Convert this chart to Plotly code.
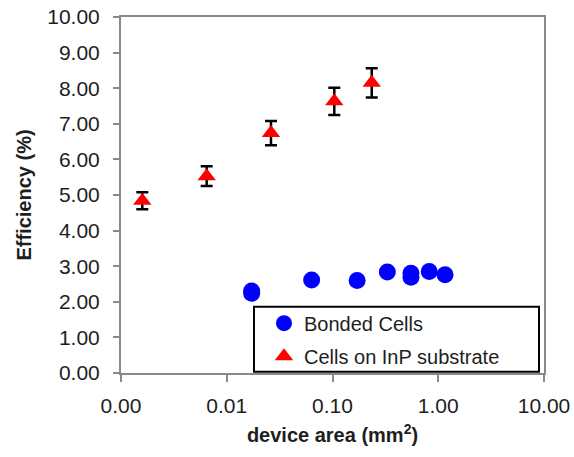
import plotly.graph_objects as go

# Bonded cells: device area (mm^2) and efficiency (%)
bonded_area = [0.0172, 0.0172, 0.0635, 0.171, 0.330, 0.552, 0.552, 0.822, 1.16]
bonded_eff = [2.30, 2.24, 2.61, 2.60, 2.84, 2.80, 2.69, 2.85, 2.76]

# Cells grown on InP substrate, with error bars
inp_area = [0.00159, 0.00646, 0.0262, 0.104, 0.235]
inp_eff = [4.84, 5.53, 6.74, 7.63, 8.15]
inp_err = [0.24, 0.28, 0.34, 0.38, 0.41]

x_tickvals = [0.001, 0.01, 0.1, 1, 10]
x_ticktext = ["0.00", "0.01", "0.10", "1.00", "10.00"]

FONT = "Liberation Sans"
AXIS_GRAY = "#898989"
TEXT = "#1e1e1e"

fig = go.Figure()

fig.add_trace(go.Scatter(
    x=bonded_area, y=bonded_eff, mode="markers", name="Bonded Cells",
    legendgroup="a",
    marker=dict(symbol="circle", size=17, color="#0000ff", line=dict(width=0)),
))

fig.add_trace(go.Scatter(
    x=inp_area, y=inp_eff, mode="markers", name="Cells on InP substrate",
    legendgroup="b",
    marker=dict(symbol="triangle-up", size=16, color="#ff0000", line=dict(width=0)),
    error_y=dict(type="data", array=inp_err, visible=True,
                 color="black", thickness=2.5, width=6),
))

# legend frame
fig.add_shape(type="rect", xref="paper", yref="paper",
              x0=(254 - 121) / 423, x1=(539 - 121) / 423,
              y0=(373.3 - 372) / 356, y1=(373.3 - 307) / 356,
              line=dict(color="black", width=2), fillcolor="white", layer="above")

fig.update_layout(
    width=574, height=457,
    margin=dict(l=121, r=30, t=17, b=84),
    paper_bgcolor="white", plot_bgcolor="white",
    font=dict(family=FONT, size=21, color=TEXT),
    showlegend=True,
    legend=dict(x=(264 - 121) / 423, xanchor="left",
                y=(373.3 - 304) / 356, yanchor="top",
                bgcolor="rgba(0,0,0,0)", borderwidth=0,
                font=dict(family=FONT, size=20, color=TEXT),
                traceorder="grouped", tracegroupgap=4,
                itemsizing="trace"),
    xaxis=dict(
        type="log", range=[-3, 1],
        tickvals=x_tickvals, ticktext=x_ticktext,
        ticks="outside", ticklen=7, tickwidth=2, tickcolor=AXIS_GRAY,
        showline=True, linecolor=AXIS_GRAY, linewidth=2, mirror=True,
        showgrid=False, zeroline=False, automargin=False,
        tickfont=dict(family=FONT, size=21, color=TEXT),
        ticklabelstandoff=6,
        title=dict(text="<b>device area (mm<sup>2</sup>)</b>",
                   font=dict(family=FONT, size=20, color=TEXT), standoff=12),
    ),
    yaxis=dict(
        range=[0, 10], dtick=1, tickformat=".2f",
        ticks="outside", ticklen=6, tickwidth=2, tickcolor=AXIS_GRAY,
        showline=True, linecolor=AXIS_GRAY, linewidth=2, mirror=True,
        showgrid=False, zeroline=False, automargin=False,
        tickfont=dict(family=FONT, size=21, color=TEXT),
        ticklabelstandoff=9,
        title=dict(text="<b>Efficiency (%)</b>",
                   font=dict(family=FONT, size=20, color=TEXT), standoff=10),
    ),
)

fig.write_html("out.html")
